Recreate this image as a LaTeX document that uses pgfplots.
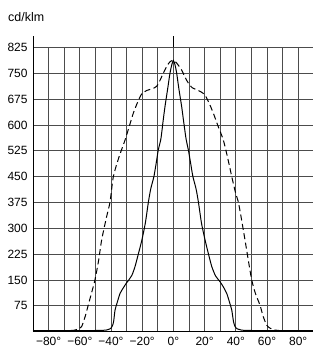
\documentclass[border=0pt]{standalone}
\usepackage{fontspec}
\setmainfont{Liberation Sans}
\usepackage{pgfplots}
\pgfplotsset{compat=1.18}
\begin{document}
\begin{tikzpicture}
\begin{axis}[name=ax, scale only axis, width=280.8bp, height=284.35bp,
 xmin=-90, xmax=90, ymin=0, ymax=825,
 axis x line=bottom, axis y line=left,
 axis line style={-, line width=0.8pt, black},
 xtick={-80,-70,...,80},
 xticklabels={−80°,,−60°,,−40°,,−20°,,0°,,20°,,40°,,60°,,80°},
 ytick={75,150,...,825},
 grid=major, grid style={black!70, line width=0.75pt},
 major tick length=0pt,
 tick label style={font=\fontsize{12}{13}\selectfont},
 yticklabel style={xshift=-2bp},
 xticklabel style={yshift=-1.5bp},
 /pgf/number format/assume math mode=true,
 clip=false]
\addplot[black, line width=1pt, dashed, dash pattern=on 6bp off 3.5bp, smooth, tension=0.4] coordinates {
(-90,3) (-80,3) (-70,3) (-64,4) (-61,8) (-58.8,15) (-56.5,45) (-54.6,77) (-52.5,112) (-50.3,150) (-48,205) (-46,266) (-43,330) (-40.6,377) (-38.5,450) (-35,505) (-31,556) (-28,600) (-25.7,634) (-23,665) (-20.3,690) (-17,700) (-13.5,705) (-10.7,712) (-8.5,730) (-6.5,750) (-4,772) (-2,784) (0,787) (2,780) (5.3,759) (7.5,738) (9.6,721) (12,708) (14.9,702) (18,695) (20.3,686) (23,662) (25.6,634) (28.5,598) (32,556) (35,500) (37.4,450) (40,400) (41.6,377) (43.5,330) (45.9,266) (48,208) (50.2,150) (52.5,112) (55.5,77) (57.5,45) (59.8,19) (62,10) (65,5) (70,3) (90,3)
};
\addplot[black, line width=1pt, smooth, tension=0.4] coordinates {
(-90,3) (-60,3) (-45,4) (-42,6) (-40,10) (-39,18) (-38.3,30) (-37.4,63) (-36,85) (-34.2,111) (-32,128) (-30,142) (-28.9,148) (-26.5,165) (-24.6,189) (-22.5,225) (-20.2,266) (-18,315) (-16,377) (-14.5,415) (-12.5,450) (-11,490) (-9.7,527) (-8,560) (-6.5,615) (-5.4,653) (-3.5,710) (-2.2,750) (-1,775) (0,787) (1,775) (2.1,750) (3.5,705) (5.3,653) (6.5,612) (8.1,560) (9.6,527) (11,490) (12.5,450) (14.5,415) (16,377) (18,315) (20.3,266) (22.5,225) (24.6,189) (27,162) (29.9,145) (32,130) (34.2,111) (36,85) (37.4,63) (38.5,30) (39.5,15) (41,8) (42.7,6) (45,4) (60,3) (90,3)
};
\draw[black, line width=0.8pt] (axis cs:-90,825) -- (axis cs:-90,858);
\draw[black, line width=0.8pt] (axis cs:0,825) -- (axis cs:0,858);
\node[anchor=base west, font=\fontsize{12.5}{13}\selectfont, inner sep=0pt] at (axis cs:-90,901) [xshift=-25bp] {cd/klm};
\end{axis}
\pgfresetboundingbox
\path ([shift={(-33bp,-19.3bp)}]ax.south west) rectangle ([shift={(280bp,331.7bp)}]ax.south west);
\end{tikzpicture}
\end{document}
